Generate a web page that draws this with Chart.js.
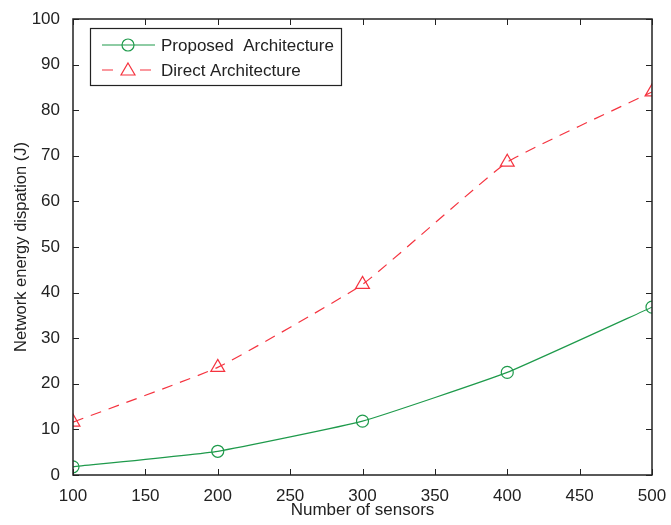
<!DOCTYPE html>
<html>
<head>
<meta charset="utf-8">
<script src="https://cdn.jsdelivr.net/npm/chart.js@4/dist/chart.umd.min.js"></script>
<style>
    html, body { margin: 0; padding: 0; background: #fff; }
    .chart-box { width: 671px; height: 525px; }
</style>
</head>
<body>
<div class="chart-box">
    <canvas id="myChart" width="671" height="525"></canvas>
</div>
<script>
    // data
    const sensors = [100, 200, 300, 400, 500];
    const proposed = [1.8, 5.2, 11.8, 22.5, 36.8];
    const direct = [11.6, 23.6, 41.8, 68.6, 84.0];
    const xTicks = [100, 150, 200, 250, 300, 350, 400, 450, 500];
    const yTicks = [0, 10, 20, 30, 40, 50, 60, 70, 80, 90, 100];

    const FONT = 'Liberation Sans, Arial, Helvetica, sans-serif';
    const green = '#1e9a4b';
    const red = '#f5333f';

    // box around plot + inward ticks, matlab style
    const boxPlugin = {
        id: 'box',
        afterDraw(chart) {
            const ctx = chart.ctx;
            const a = chart.chartArea;
            const xs = chart.scales.x, ys = chart.scales.y;
            ctx.save();
            ctx.strokeStyle = '#222';
            ctx.lineWidth = 1.5;
            ctx.strokeRect(a.left, a.top, a.right - a.left, a.bottom - a.top);
            ctx.lineWidth = 1;
            ctx.beginPath();
            xTicks.forEach(v => {
                const px = Math.round(xs.getPixelForValue(v)) + 0.5;
                ctx.moveTo(px, a.bottom); ctx.lineTo(px, a.bottom - 6);
                ctx.moveTo(px, a.top); ctx.lineTo(px, a.top + 6);
            });
            yTicks.forEach(v => {
                const py = Math.round(ys.getPixelForValue(v)) + 0.5;
                ctx.moveTo(a.left, py); ctx.lineTo(a.left + 6, py);
                ctx.moveTo(a.right, py); ctx.lineTo(a.right - 6, py);
            });
            ctx.stroke();

            // legend box
            const lx = 90, ly = 28, lw = 251, lh = 57;
            ctx.fillStyle = '#fff';
            ctx.fillRect(lx, ly, lw, lh);
            ctx.strokeStyle = '#222';
            ctx.lineWidth = 1.2;
            ctx.strokeRect(lx + 0.5, ly + 0.5, lw, lh);
            ctx.font = '17px ' + FONT;
            ctx.textBaseline = 'middle';
            chart.data.datasets.forEach((ds, i) => {
                const y = ly + 17 + i * 25;
                ctx.strokeStyle = ds.borderColor;
                ctx.lineWidth = 1.2;
                ctx.setLineDash(ds.borderDash || []);
                ctx.beginPath();
                ctx.moveTo(lx + 12, y); ctx.lineTo(lx + 65, y);
                ctx.stroke();
                ctx.setLineDash([]);
                ctx.fillStyle = '#fff';
                if (ds.pointStyle === 'triangle') {
                    ctx.fillRect(lx + 30, y - 8, 16, 16);
                    ctx.beginPath();
                    ctx.moveTo(lx + 38, y - 7); ctx.lineTo(lx + 45, y + 5); ctx.lineTo(lx + 31, y + 5);
                    ctx.closePath();
                } else {
                    ctx.beginPath();
                    ctx.arc(lx + 38, y, 6, 0, Math.PI * 2);
                }
                ctx.stroke();
                ctx.fillStyle = '#222';
                ctx.fillText(ds.label, lx + 71, y + 1);
            });
            ctx.restore();
        }
    };

    new Chart(document.getElementById('myChart'), {
        type: 'line',
        data: {
            datasets: [{
                label: 'Proposed  Architecture',
                data: sensors.map((s, i) => ({ x: s, y: proposed[i] })),
                borderColor: green,
                backgroundColor: 'rgba(0,0,0,0)',
                borderWidth: 1.2,
                pointStyle: 'circle',
                pointRadius: 6,
                pointBorderWidth: 1.2,
                tension: 0.12
            }, {
                label: 'Direct Architecture',
                data: sensors.map((s, i) => ({ x: s, y: direct[i] })),
                borderColor: red,
                backgroundColor: 'rgba(0,0,0,0)',
                borderWidth: 1.2,
                borderDash: [11, 8],
                pointStyle: 'triangle',
                pointRadius: 8,
                pointBorderWidth: 1.2,
                tension: 0.12
            }]
        },
        options: {
            responsive: false,
            animation: false,
            layout: { padding: { top: 19, right: 19, left: 0, bottom: 0 } },
            plugins: { legend: { display: false }, tooltip: { enabled: false } },
            scales: {
                x: {
                    type: 'linear', min: 100, max: 500,
                    afterBuildTicks: s => { s.ticks = xTicks.map(v => ({ value: v })); },
                    afterFit: s => { s.height = 50; },
                    grid: { display: false },
                    border: { display: false },
                    ticks: { color: '#222', font: { family: FONT, size: 17 }, padding: 3 },
                    title: { display: true, text: 'Number of sensors', color: '#222', font: { family: FONT, size: 17 }, padding: { top: 0 } }
                },
                y: {
                    min: 0, max: 100,
                    afterBuildTicks: s => { s.ticks = yTicks.map(v => ({ value: v })); },
                    afterFit: s => { s.width = 73; },
                    grid: { display: false },
                    border: { display: false },
                    ticks: { color: '#222', font: { family: FONT, size: 17 }, padding: 5 },
                    title: { display: true, text: 'Network energy dispation (J)', color: '#222', font: { family: FONT, size: 16.5 }, padding: { top: 12, bottom: 0 } }
                }
            }
        },
        plugins: [boxPlugin]
    });
</script>
</body>
</html>
